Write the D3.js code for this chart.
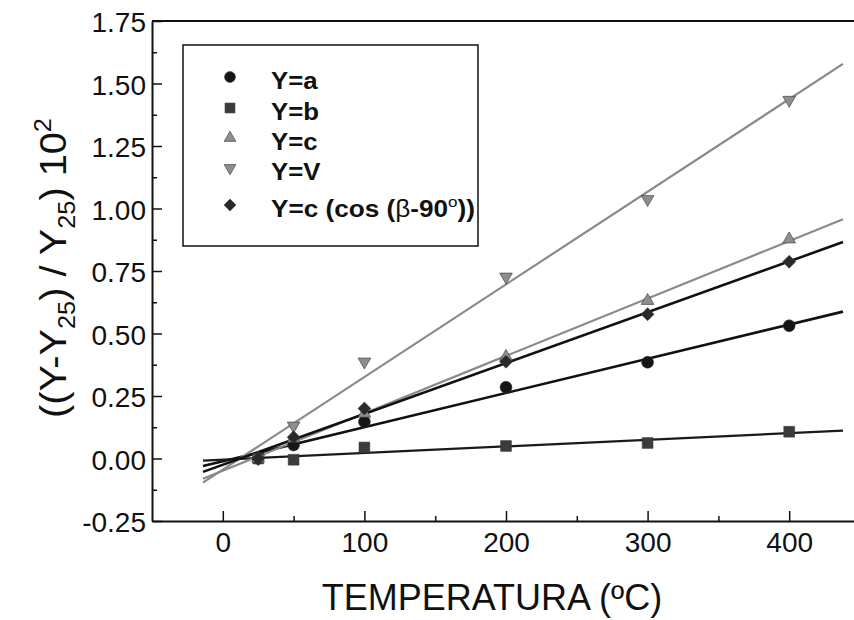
<!DOCTYPE html>
<html>
<head>
<meta charset="utf-8">
<script src="https://cdn.jsdelivr.net/npm/d3@7"></script>
<style>
  body { margin: 0; background: #fff; }
  text { font-family: "Liberation Sans", Arial, sans-serif; fill: #111; }
</style>
</head>
<body>
<div id="chart"></div>
<script>
const width = 854;
const height = 620;
const margin = {top: 21, right: -6, bottom: 99, left: 152};

// temperatures (ºC) and relative changes ((Y-Y25)/Y25)*100
const temps = [25, 50, 100, 200, 300, 400];
const serieA = [0, 0.054, 0.147, 0.285, 0.385, 0.531];
const serieB = [0, -0.005, 0.044, 0.050, 0.062, 0.107];
const serieC = [0, 0.080, 0.180, 0.407, 0.631, 0.877];
const serieV = [0, 0.131, 0.387, 0.727, 1.037, 1.434];
const serieCcos = [0, 0.085, 0.200, 0.387, 0.577, 0.787];
const fitRange = [-14, 438];

const xTicks = [0, 100, 200, 300, 400];
const xMinor = [50, 150, 250, 350];
const yTicks = [-0.25, 0, 0.25, 0.5, 0.75, 1, 1.25, 1.5, 1.75];
const yMinor = [-0.125, 0.125, 0.375, 0.625, 0.875, 1.125, 1.375, 1.625];

const series = [
  {name: "a", values: serieA, symbol: d3.symbolCircle, size: 110, rot: 0, fill: "#151515", line: "#111", lw: 2.6},
  {name: "b", values: serieB, symbol: d3.symbolSquare, size: 115, rot: 0, fill: "#3c3c3c", line: "#1a1a1a", lw: 2.2},
  {name: "c", values: serieC, symbol: d3.symbolTriangle, size: 70, rot: 0, fill: "#8e8e8e", line: "#8a8a8a", lw: 2.2},
  {name: "V", values: serieV, symbol: d3.symbolTriangle, size: 70, rot: 180, fill: "#8e8e8e", line: "#8a8a8a", lw: 2.2},
  {name: "ccos", values: serieCcos, symbol: d3.symbolSquare, size: 82, rot: 45, fill: "#2a2a2a", line: "#111", lw: 2.6}
];

const svg = d3.select("#chart").append("svg")
  .attr("width", width)
  .attr("height", height);

const x = d3.scaleLinear().domain([-50, 450]).range([margin.left, 860]);
const y = d3.scaleLinear().domain([-0.25, 1.75]).range([height - margin.bottom, margin.top]);

function fit(values) {
  const mx = d3.mean(temps), my = d3.mean(values);
  const sxy = d3.sum(temps, (t, i) => (t - mx) * (values[i] - my));
  const sxx = d3.sum(temps, t => (t - mx) * (t - mx));
  const slope = sxy / sxx;
  return t => my + slope * (t - mx);
}

function widen(sel, k) {
  sel.each(function() {
    const w = this.getComputedTextLength();
    d3.select(this).attr("textLength", w * k).attr("lengthAdjust", "spacingAndGlyphs");
  });
}

// frame (top + right)
svg.append("path")
  .attr("d", `M${x(-50)},${y(1.75)}H${x(450)}V${y(-0.25)}`)
  .attr("fill", "none")
  .attr("stroke", "#111")
  .attr("stroke-width", 2);

// axes
const xAxis = svg.append("g").attr("transform", `translate(0,${y(-0.25)})`)
  .call(d3.axisBottom(x).tickValues(xTicks).tickSizeInner(-10).tickSizeOuter(0).tickPadding(11).tickFormat(d3.format("d")));
svg.append("g").attr("transform", `translate(0,${y(-0.25)})`)
  .call(d3.axisBottom(x).tickValues(xMinor).tickSizeInner(-5).tickSizeOuter(0).tickFormat(""))
  .select(".domain").remove();

const yAxis = svg.append("g").attr("transform", `translate(${x(-50)},0)`)
  .call(d3.axisLeft(y).tickValues(yTicks).tickSizeInner(-10).tickSizeOuter(0).tickPadding(6)
    .tickFormat(d => d3.format(".2f")(d).replace("−", "-")));
svg.append("g").attr("transform", `translate(${x(-50)},0)`)
  .call(d3.axisLeft(y).tickValues(yMinor).tickSizeInner(-5).tickSizeOuter(0).tickFormat(""))
  .select(".domain").remove();

svg.selectAll(".domain").attr("stroke", "#111").attr("stroke-width", 2);
svg.selectAll(".tick line").attr("stroke", "#111").attr("stroke-width", 1.5);
svg.selectAll(".tick text").attr("fill", "#111").style("font-size", "28px")
  .style("font-family", "'Liberation Sans', Arial, sans-serif");
yAxis.selectAll(".tick text").attr("dy", "0.38em");
xAxis.selectAll(".tick text").attr("dy", "0.71em");

// fitted lines
series.forEach(s => {
  const f = fit(s.values);
  svg.append("path")
    .datum(fitRange)
    .attr("fill", "none")
    .attr("stroke", s.line)
    .attr("stroke-width", s.lw)
    .attr("d", d3.line().x(t => x(t)).y(t => y(f(t))));
});

// markers
series.forEach(s => {
  svg.append("g").selectAll("path")
    .data(temps.map((t, i) => ({t, v: s.values[i]})))
    .join("path")
    .attr("transform", d => `translate(${x(d.t)},${y(d.v)}) rotate(${s.rot})`)
    .attr("d", d3.symbol(s.symbol, s.size))
    .attr("fill", s.fill)
    .attr("stroke", "#333")
    .attr("stroke-width", 0.6);
});

// legend
const legend = svg.append("g");
legend.append("rect")
  .attr("x", 183).attr("y", 45)
  .attr("width", 295).attr("height", 201)
  .attr("fill", "#fff")
  .attr("stroke", "#111")
  .attr("stroke-width", 1.5);

const legendRows = [89, 120, 150, 180, 217];
series.forEach((s, i) => {
  legend.append("path")
    .attr("transform", `translate(230,${legendRows[i] - 12}) rotate(${s.rot})`)
    .attr("d", d3.symbol(s.symbol, s.size * 0.85))
    .attr("fill", s.fill)
    .attr("stroke", "#333")
    .attr("stroke-width", 0.6);
});

const legendTexts = legend.selectAll("text.lab")
  .data(["Y=a", "Y=b", "Y=c", "Y=V"])
  .join("text")
  .attr("class", "lab")
  .attr("x", 271)
  .attr("y", (d, i) => legendRows[i])
  .style("font-size", "23px")
  .style("font-weight", "bold")
  .text(d => d);

const lastLabel = legend.append("text")
  .attr("x", 271)
  .attr("y", legendRows[4])
  .style("font-size", "23px")
  .style("font-weight", "bold");
lastLabel.append("tspan").text("Y=c (cos (");
lastLabel.append("tspan").style("font-weight", "normal").text("β");
lastLabel.append("tspan").text("-90");
lastLabel.append("tspan").attr("dy", -10).style("font-size", "15px").style("font-weight", "normal").text("o");
lastLabel.append("tspan").attr("dy", 10).text("))");

widen(legendTexts, 1.12);
lastLabel.attr("textLength", 204).attr("lengthAdjust", "spacingAndGlyphs");

// axis titles
svg.append("text")
  .attr("x", 492)
  .attr("y", 610)
  .attr("text-anchor", "middle")
  .style("font-size", "36px")
  .text("TEMPERATURA (ºC)");

const yTitle = svg.append("text")
  .attr("transform", "translate(66,268) rotate(-90)")
  .attr("text-anchor", "middle")
  .style("font-size", "36px");
yTitle.append("tspan").text("((Y-Y");
yTitle.append("tspan").attr("dy", 9).style("font-size", "23px").text("25");
yTitle.append("tspan").attr("dy", -9).text(") / Y");
yTitle.append("tspan").attr("dy", 9).style("font-size", "23px").text("25");
yTitle.append("tspan").attr("dy", -9).text(") 10");
yTitle.append("tspan").attr("dy", -15).style("font-size", "23px").text("2");
yTitle.attr("textLength", 300).attr("lengthAdjust", "spacingAndGlyphs");
</script>
</body>
</html>
